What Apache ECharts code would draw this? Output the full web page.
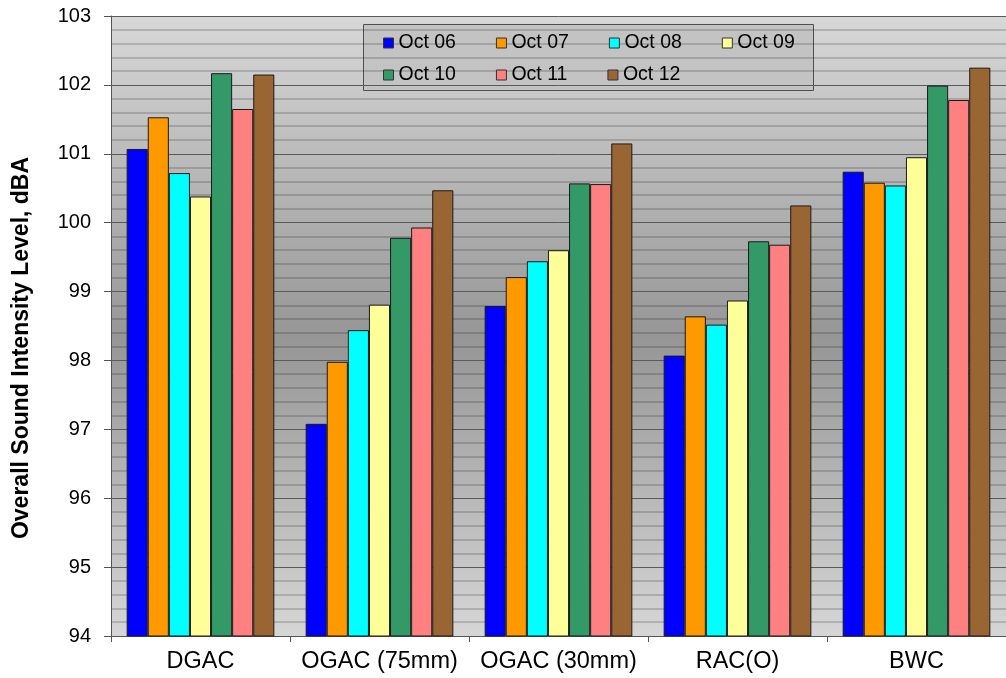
<!DOCTYPE html>
<html>
<head>
<meta charset="utf-8">
<script src="https://cdn.jsdelivr.net/npm/echarts@6/dist/echarts.min.js"></script>
<style>
  html, body { margin: 0; padding: 0; background: #fff; }
  #chart { width: 1006px; height: 678px; }
</style>
</head>
<body>
<div id="chart"></div>
<script>
  // sites on the x axis
  var categories = ['DGAC', 'OGAC (75mm)', 'OGAC (30mm)', 'RAC(O)', 'BWC']
  var seriesNames = ['Oct 06', 'Oct 07', 'Oct 08', 'Oct 09', 'Oct 10', 'Oct 11', 'Oct 12']
  // overall sound intensity level, dBA
  var oct06 = [101.07, 97.08, 98.79, 98.07, 100.74]
  var oct07 = [101.53, 97.98, 99.21, 98.64, 100.58]
  var oct08 = [100.72, 98.44, 99.44, 98.52, 100.54]
  var oct09 = [100.38, 98.81, 99.60, 98.87, 100.95]
  var oct10 = [102.17, 99.78, 100.57, 99.73, 101.99]
  var oct11 = [101.65, 99.93, 100.56, 99.68, 101.78]
  var oct12 = [102.15, 100.47, 101.15, 100.25, 102.25]
  var yTicks = [94, 95, 96, 97, 98, 99, 100, 101, 102, 103]

  var colors = ['#0000ff', '#ff9900', '#00ffff', '#ffff99', '#339966', '#ff8080', '#996633']
  var values = [oct06, oct07, oct08, oct09, oct10, oct11, oct12]
  var font = 'Liberation Sans, Arial, sans-serif'

  var chart = echarts.init(document.getElementById('chart'))

  var series = seriesNames.map(function (name, i) {
    return {
      name: name,
      type: 'bar',
      data: values[i],
      barGap: '0%',
      barCategoryGap: '17.5%',
      itemStyle: {
        color: colors[i],
        borderColor: '#1a1a1a',
        borderWidth: 1
      },
      animation: false
    }
  })

  var legendBase = {
    orient: 'horizontal',
    padding: 0,
    itemWidth: 10,
    itemHeight: 10,
    itemGap: 40,
    icon: 'rect',
    selectedMode: false,
    itemStyle: { borderColor: '#333', borderWidth: 1 },
    textStyle: { fontFamily: font, fontSize: 19.5, color: '#000' }
  }

  chart.setOption({
    backgroundColor: '#fff',
    animation: false,
    grid: {
      left: 111,
      right: -8,
      top: 16,
      bottom: 42,
      show: true,
      borderWidth: 0,
      backgroundColor: new echarts.graphic.LinearGradient(0, 0, 0, 1, [
        { offset: 0, color: '#d8d8d8' },
        { offset: 0.52, color: '#969696' },
        { offset: 1, color: '#d6d6d6' }
      ])
    },
    legend: [
      Object.assign({}, legendBase, { left: 383, top: 33, data: seriesNames.slice(0, 4) }),
      Object.assign({}, legendBase, { left: 383, top: 65, data: seriesNames.slice(4) })
    ],
    graphic: [
      {
        type: 'rect',
        left: 363,
        top: 24,
        z: 0,
        shape: { width: 450, height: 66 },
        style: { fill: '#c3c3c3', stroke: '#505050', lineWidth: 1 }
      },
      {
        type: 'text',
        x: 22,
        y: 348,
        rotation: Math.PI / 2,
        style: {
          text: 'Overall Sound Intensity Level, dBA',
          fontFamily: font,
          fontSize: 23,
          fontWeight: 'bold',
          fill: '#000',
          textAlign: 'center',
          textVerticalAlign: 'middle'
        }
      }
    ],
    xAxis: {
      type: 'category',
      data: categories,
      axisLine: { show: true, lineStyle: { color: '#555', width: 1 } },
      axisTick: { show: true, length: 6, alignWithLabel: false, lineStyle: { color: '#555' } },
      axisLabel: { interval: 0, fontFamily: font, fontSize: 23.5, color: '#000', margin: 14 },
      splitLine: { show: false }
    },
    yAxis: {
      type: 'value',
      min: yTicks[0],
      max: yTicks[yTicks.length - 1],
      interval: 1,
      axisLine: { show: true, lineStyle: { color: '#555', width: 1 } },
      axisTick: { show: true, length: 7, inside: false, lineStyle: { color: '#555' } },
      axisLabel: { fontFamily: font, fontSize: 20, color: '#000', margin: 20 },
      splitLine: { show: true, lineStyle: { color: '#5a5a5a', width: 1 } },
      minorTick: { show: false, splitNumber: 5 },
      minorSplitLine: { show: true, lineStyle: { color: 'rgba(0,0,0,0.16)', width: 2 } }
    },
    series: series
  })
</script>
</body>
</html>
